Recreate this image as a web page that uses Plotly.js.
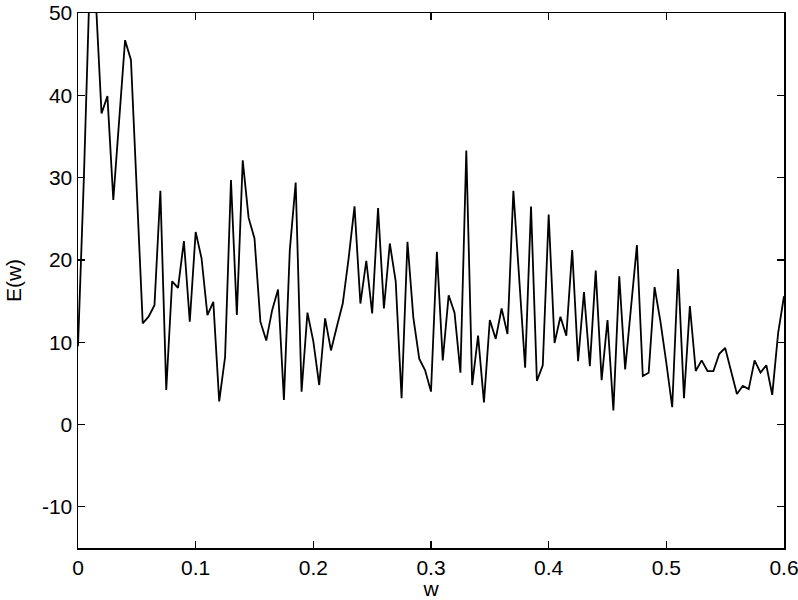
<!DOCTYPE html>
<html>
<head>
<meta charset="utf-8">
<script src="https://cdn.plot.ly/plotly-3.0.1.min.js"></script>
<style>html,body{margin:0;padding:0;background:#fff;}#chart{width:798px;height:600px;}</style>
</head>
<body>
<div id="chart"></div>
<script>
// frequency step and spectrum values E(w)
const wStep = 0.005;
const energy = [
  9.5, 30, 54, 52, 37.8, 39.9, 27.3, 37, 46.7, 44.3,
  28, 12.3, 13.1, 14.5, 28.4, 4.2, 17.4, 16.6, 22.3, 12.5,
  23.4, 20.2, 13.3, 14.9, 2.8, 8.2, 29.7, 13.3, 32.1, 25.1,
  22.6, 12.5, 10.2, 13.9, 16.4, 3.0, 21.2, 29.4, 4.0, 13.6,
  10.1, 4.8, 12.9, 9.0, 11.9, 14.7, 20.2, 26.5, 14.7, 19.9,
  13.5, 26.3, 14.1, 22.0, 17.4, 3.2, 22.2, 13.0, 8.0, 6.6,
  4.0, 21.0, 7.8, 15.7, 13.6, 6.3, 33.3, 4.8, 10.8, 2.7,
  12.7, 10.4, 14.1, 11.0, 28.4, 18.0, 6.9, 26.5, 5.3, 7.2,
  25.5, 9.9, 13.1, 10.8, 21.2, 7.7, 16.1, 7.1, 18.7, 5.4,
  12.7, 1.7, 18.0, 6.7, 14.2, 21.8, 5.9, 6.3, 16.7, 12.5,
  7.5, 2.1, 18.9, 3.2, 14.4, 6.5, 7.8, 6.5, 6.5, 8.6,
  9.3, 6.4, 3.7, 4.7, 4.3, 7.8, 6.3, 7.2, 3.6, 11.1,
  15.6
];
const w = energy.map((_, i) => +(i * wStep).toFixed(4));
const xTicks = [0, 0.1, 0.2, 0.3, 0.4, 0.5, 0.6];
const xTickText = ['0', '0.1', '0.2', '0.3', '0.4', '0.5', '0.6'];
const yTicks = [-10, 0, 10, 20, 30, 40, 50];
const yTickText = ['-10', '0', '10', '20', '30', '40', '50'];

const font = {family: 'Liberation Sans, Arial, sans-serif', size: 21, color: '#000'};

Plotly.newPlot('chart', [{
  x: w, y: energy, type: 'scatter', mode: 'lines',
  line: {color: '#000', width: 1.8}, hoverinfo: 'skip'
}], {
  width: 798, height: 600,
  margin: {l: 78, r: 14, t: 13, b: 52},
  paper_bgcolor: '#fff', plot_bgcolor: '#fff',
  showlegend: false,
  font: font,
  xaxis: {
    range: [0, 0.6], tickvals: xTicks, ticktext: xTickText,
    ticks: 'inside', ticklen: 7, tickwidth: 1.2, tickcolor: '#000',
    showline: true, linecolor: '#000', linewidth: 1.5, mirror: 'ticks',
    showgrid: false, zeroline: false, automargin: false,
    ticklabeloverflow: 'allow',
    tickfont: font,
    title: {text: 'w', font: font, standoff: 4}
  },
  yaxis: {
    range: [-15, 50], tickvals: yTicks, ticktext: yTickText,
    ticks: 'inside', ticklen: 7, tickwidth: 1.2, tickcolor: '#000',
    showline: true, linecolor: '#000', linewidth: 1.5, mirror: 'ticks',
    showgrid: false, zeroline: false, automargin: false,
    ticklabeloverflow: 'allow',
    tickfont: font,
    title: {text: 'E(w)', font: font, standoff: 14}
  }
}, {displayModeBar: false, staticPlot: true});
</script>
</body>
</html>
